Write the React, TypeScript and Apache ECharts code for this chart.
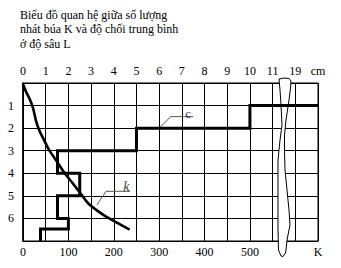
import React, { useEffect, useRef } from "react";
import * as echarts from "echarts";

const titleLines = ["Biểu đồ quan hệ giữa số lượng", "nhát búa K và độ chối trung bình", "ở độ sâu L"];

// top axis (cm) tick labels
const cmTicks = [0, 1, 2, 3, 4, 5, 6, 7, 8, 9, 10, 11, 12, 13];
const cmTickLabels = ["0", "1", "2", "3", "4", "5", "6", "7", "8", "9", "10", "11", "19", "cm"];
// bottom axis (K)
const kTickLabels: Record<number, string> = { 0: "0", 100: "100", 200: "200", 300: "300", 400: "400", 500: "500", 650: "K" };
// depth labels
const depthLabels = ["", "1", "2", "3", "4", "5", "6", ""];

// curve k: K value vs depth L
const kValue = [0, 3, 7, 14, 22, 29, 37, 47, 57, 72, 92, 110, 129, 144, 162, 184, 210, 235];
const kDepth = [0.05, 0.2, 0.4, 0.68, 1.1, 1.7, 2.15, 2.55, 2.95, 3.4, 4.0, 4.45, 4.95, 5.34, 5.63, 5.93, 6.22, 6.5];

// step line c: penetration (cm) per layer
const cStart = 13;
const cLayerTop = [1, 2, 3, 4, 5, 6, 6.47];
const cLayerBottom = [2, 3, 4, 5, 6, 6.47, 7];
const cValue = [10, 5, 1.52, 2.5, 1.52, 2, 0.77];

// annotation leaders
const cLeader = [[6.04, 1.96], [6.51, 1.49], [7.5, 1.49]];
const cLabelPos = [7.28, 1.34];
const kLeader = [[163, 5.4], [183, 4.8], [236, 4.8]];
const kLabelPos = [228, 4.6];

const breakPath =
  "M279 79 L280 90 L281 105 L282 125 L280 140 L278 160 L278 200 L278 230 L278.5 250 L281 256 L283 256.5 L285.5 253 L286 250 L287 240 L290 225 L289 210 L287 190 L285 170 L284.5 150 L284.5 135 L286 120 L289 100 L290.5 88 L291 81 L289 78.5 L284 78 Z";

let registered = false;

export default function App() {
  const ref = useRef<HTMLDivElement>(null);
  useEffect(() => {
    if (!ref.current) return;
    if (!registered) {
      echarts.graphic.registerShape("crack", echarts.graphic.extendPath(breakPath, {}) as any);
      registered = true;
    }
    const chart = echarts.init(ref.current, null, { renderer: "svg" });
    const font = "'Liberation Serif', 'Times New Roman', serif";
    const cPoints: number[][] = [[cStart, cLayerTop[0]]];
    cValue.forEach((v, i) => {
      cPoints.push([v, cLayerTop[i]]);
      cPoints.push([v, cLayerBottom[i]]);
    });
    const kPoints = kValue.map((v, i) => [v, kDepth[i]]);
    const lineBlack = { color: "#000", width: 1 };
    chart.setOption({
      animation: false,
      backgroundColor: "#fff",
      grid: { left: 23, right: 23, top: 83, bottom: 27, show: true, borderColor: "#000", borderWidth: 1, backgroundColor: "transparent" },
      graphic: [
        {
          type: "text",
          left: 20,
          top: 8,
          style: { text: titleLines.join("\n"), font: `12px ${font}`, lineHeight: 14.3, fill: "#000" },
        },
        {
          type: "crack",
          x: 0,
          y: 0,
          z: 1,
          style: { fill: "#fff", stroke: "#000", lineWidth: 1 },
        },
      ],
      xAxis: [
        {
          type: "value",
          position: "top",
          min: 0,
          max: 13,
          interval: 1,
          axisLine: { show: true, lineStyle: lineBlack },
          axisTick: { show: false },
          splitLine: { show: true, lineStyle: lineBlack },
          axisLabel: {
            color: "#000",
            fontFamily: font,
            fontSize: 12,
            margin: 6,
            showMinLabel: true,
            showMaxLabel: true,
            formatter: (v: number) => {
              const i = cmTicks.indexOf(v);
              return i >= 0 ? cmTickLabels[i] : "";
            },
          },
        },
        {
          type: "value",
          position: "bottom",
          min: 0,
          max: 650,
          interval: 50,
          axisLine: { show: true, lineStyle: lineBlack },
          axisTick: { show: false },
          splitLine: { show: false },
          axisLabel: {
            color: "#000",
            fontFamily: font,
            fontSize: 12,
            margin: 5,
            showMinLabel: true,
            showMaxLabel: true,
            hideOverlap: false,
            formatter: (v: number) => kTickLabels[v] ?? "",
          },
        },
      ],
      yAxis: {
        type: "value",
        inverse: true,
        min: 0,
        max: 7,
        interval: 1,
        axisLine: { show: true, lineStyle: { color: "#000", width: 1.5 } },
        axisTick: { show: false },
        splitLine: { show: true, lineStyle: lineBlack },
        axisLabel: {
          color: "#000",
          fontFamily: font,
          fontSize: 12,
          margin: 9,
          formatter: (v: number) => depthLabels[Math.round(v)] ?? "",
        },
      },
      series: [
        {
          type: "line",
          xAxisIndex: 0,
          data: cPoints,
          symbol: "none",
          z: 5,
          lineStyle: { color: "#000", width: 3, join: "miter" },
        },
        {
          type: "line",
          xAxisIndex: 1,
          data: kPoints,
          symbol: "none",
          smooth: 0.3,
          z: 5,
          lineStyle: { color: "#000", width: 2.6 },
        },
        {
          type: "line",
          xAxisIndex: 0,
          data: cLeader,
          symbol: "none",
          z: 4,
          lineStyle: { color: "#555", width: 1 },
        },
        {
          type: "line",
          xAxisIndex: 1,
          data: kLeader,
          symbol: "none",
          z: 4,
          lineStyle: { color: "#555", width: 1 },
        },
        {
          type: "scatter",
          xAxisIndex: 0,
          data: [cLabelPos],
          symbolSize: 1,
          itemStyle: { color: "transparent" },
          label: { show: true, position: "inside", formatter: "c", color: "#000", fontFamily: font, fontSize: 13 },
          z: 6,
        },
        {
          type: "scatter",
          xAxisIndex: 1,
          data: [kLabelPos],
          symbolSize: 1,
          itemStyle: { color: "transparent" },
          label: { show: true, position: "inside", formatter: "k", color: "#000", fontFamily: font, fontSize: 14, fontStyle: "italic" },
          z: 6,
        },
      ],
    });
    return () => chart.dispose();
  }, []);
  return <div ref={ref} style={{ position: "fixed", left: 0, top: 0, width: 341, height: 268 }} />;
}
